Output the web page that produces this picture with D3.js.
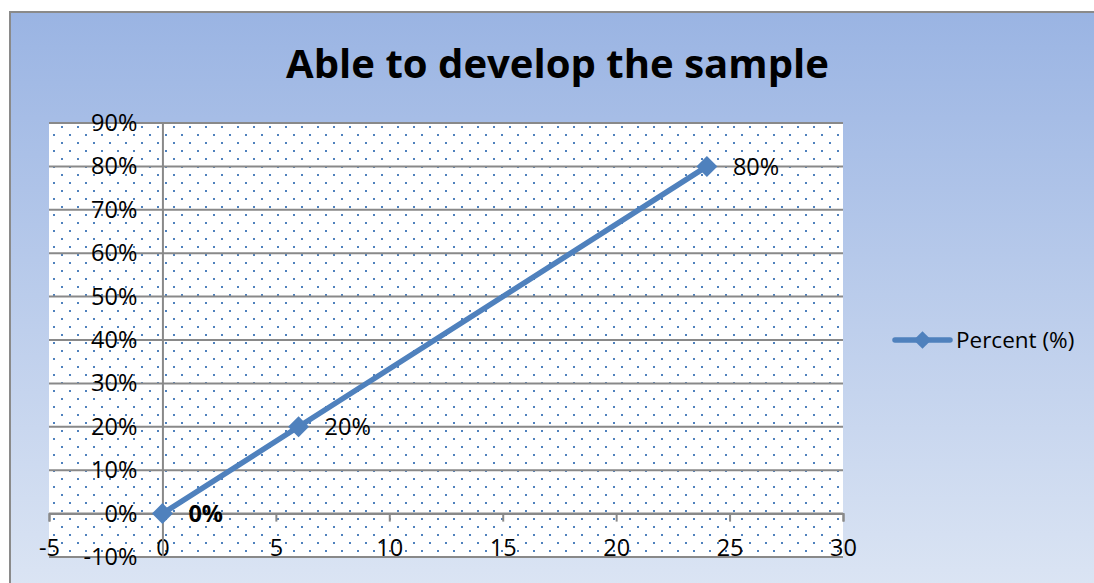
<!DOCTYPE html>
<html>
<head>
<meta charset="utf-8">
<script src="https://cdn.jsdelivr.net/npm/d3@7"></script>
<style>
  html, body { margin: 0; padding: 0; background: #ffffff; }
  svg { display: block; }
  text { font-family: "Open Sans", "Liberation Sans", sans-serif; }
</style>
</head>
<body>
<svg id="chart" width="1094" height="583"></svg>
<script>
// Series data: sample count (x) against share able to develop the sample (y)
const xValues = [0, 6, 24];
const yValues = [0, 0.20, 0.80];
const pointLabels = ["0%", "20%", "80%"];
const xTicks = [-5, 0, 5, 10, 15, 20, 25, 30];
const yTicks = [-0.1, 0, 0.1, 0.2, 0.3, 0.4, 0.5, 0.6, 0.7, 0.8, 0.9];
const seriesName = "Percent (%)";
const chartTitle = "Able to develop the sample";

const W = 1094, H = 583;
const plot = { left: 49, right: 843, top: 123, bottom: 557 };
const blue = "#4f81bd";
const gridGray = "#898989";

// Plain hyphen for negative numbers
const locale = d3.formatLocale({ decimal: ".", thousands: ",", grouping: [3], currency: ["", ""], minus: "-" });

const svg = d3.select("#chart");
const defs = svg.append("defs");

// Chart area background: vertical blue gradient
const grad = defs.append("linearGradient")
  .attr("id", "bg").attr("x1", 0).attr("y1", 0).attr("x2", 0).attr("y2", 1);
grad.append("stop").attr("offset", "0%").attr("stop-color", "#9ab4e3");
grad.append("stop").attr("offset", "100%").attr("stop-color", "#dde6f4");

// Plot area fill: small blue dots on white
const pat = defs.append("pattern")
  .attr("id", "dots").attr("patternUnits", "userSpaceOnUse")
  .attr("x", 141).attr("y", 126).attr("width", 16).attr("height", 16);
pat.append("rect").attr("width", 16).attr("height", 16).attr("fill", "#ffffff");
pat.append("rect").attr("x", 0).attr("y", 0).attr("width", 2).attr("height", 2).attr("fill", blue);
pat.append("rect").attr("x", 8).attr("y", 8).attr("width", 2).attr("height", 2).attr("fill", blue);

svg.append("rect")
  .attr("x", 10).attr("y", 12).attr("width", W + 10).attr("height", H + 10)
  .attr("fill", "url(#bg)").attr("stroke", "#8a8a8a").attr("stroke-width", 2);

const x = d3.scaleLinear().domain([-5, 30]).range([plot.left, plot.right]);
const y = d3.scaleLinear().domain([-0.1, 0.9]).range([plot.bottom, plot.top]);

svg.append("rect")
  .attr("x", plot.left).attr("y", plot.top)
  .attr("width", plot.right - plot.left).attr("height", plot.bottom - plot.top)
  .attr("fill", "url(#dots)");

// Horizontal gridlines
svg.append("g").selectAll("line").data(yTicks).join("line")
  .attr("x1", plot.left).attr("x2", plot.right)
  .attr("y1", d => y(d)).attr("y2", d => y(d))
  .attr("stroke", gridGray).attr("stroke-width", 2);

// X axis crossing at y = 0
const xAxis = svg.append("g")
  .attr("transform", `translate(0,${y(0)})`)
  .call(d3.axisBottom(x).tickValues(xTicks).tickFormat(locale.format("d"))
    .tickSizeInner(8).tickSizeOuter(8).tickPadding(18));
xAxis.selectAll("path, line").attr("stroke", gridGray).attr("stroke-width", 2);
xAxis.selectAll("text").attr("font-size", 23.5).attr("fill", "#000");

// Y axis crossing at x = 0
const yAxis = svg.append("g")
  .attr("transform", `translate(${x(0)},0)`)
  .call(d3.axisLeft(y).tickValues(yTicks).tickFormat(locale.format(".0%"))
    .tickSizeInner(0).tickSizeOuter(0).tickPadding(25));
yAxis.selectAll("path, line").attr("stroke", gridGray).attr("stroke-width", 2);
yAxis.selectAll("text").attr("font-size", 23.5).attr("fill", "#000");

// Series line and diamond markers
const pts = xValues.map((v, i) => ({ x: v, y: yValues[i], label: pointLabels[i] }));
svg.append("path")
  .datum(pts)
  .attr("fill", "none").attr("stroke", blue).attr("stroke-width", 5.5)
  .attr("stroke-linejoin", "round")
  .attr("d", d3.line().x(d => x(d.x)).y(d => y(d.y)));

const diamond = d3.symbol().type(d3.symbolDiamond2).size(280);
svg.append("g").selectAll("path").data(pts).join("path")
  .attr("transform", d => `translate(${x(d.x)},${y(d.y)})`)
  .attr("d", diamond)
  .attr("fill", blue);

// Data labels
svg.append("g").selectAll("text").data(pts).join("text")
  .attr("x", d => x(d.x) + 26)
  .attr("y", d => y(d.y))
  .attr("dy", "0.36em")
  .attr("font-size", 23.5)
  .attr("font-weight", d => d.y === 0 ? "bold" : "normal")
  .attr("fill", "#000")
  .text(d => d.label);

// Legend
const lg = svg.append("g").attr("transform", "translate(895,340)");
lg.append("line").attr("x1", 0).attr("x2", 55).attr("y1", 0).attr("y2", 0)
  .attr("stroke", blue).attr("stroke-width", 5.5).attr("stroke-linecap", "round");
lg.append("path").attr("transform", "translate(27.5,0)")
  .attr("d", d3.symbol().type(d3.symbolDiamond2).size(200)).attr("fill", blue);
lg.append("text").attr("x", 61).attr("y", 0).attr("dy", "0.36em")
  .attr("font-size", 22.5).attr("fill", "#000").text(seriesName);

// Title, sized to span its width
const title = svg.append("text")
  .attr("x", 557.5).attr("y", 78)
  .attr("text-anchor", "middle")
  .attr("font-weight", "bold").attr("font-size", 40).attr("fill", "#000")
  .text(chartTitle);
const tw = title.node().getComputedTextLength();
title.attr("font-size", 40 * 543 / tw);
</script>
</body>
</html>
